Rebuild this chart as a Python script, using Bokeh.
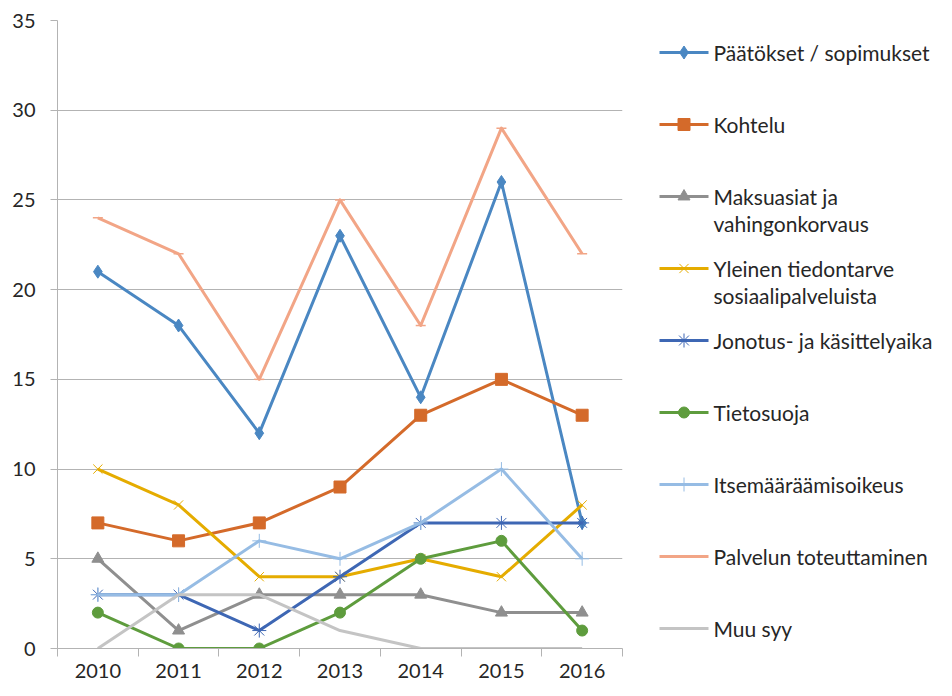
from bokeh.plotting import figure
from bokeh.layouts import row
from bokeh.models import Range1d, FixedTicker
from bokeh.core.properties import value
from bokeh.embed import file_html
from bokeh.resources import INLINE

years = ["2010", "2011", "2012", "2013", "2014", "2015", "2016"]

paatokset = [21, 18, 12, 23, 14, 26, 7]
kohtelu = [7, 6, 7, 9, 13, 15, 13]
maksuasiat = [5, 1, 3, 3, 3, 2, 2]
yleinen = [10, 8, 4, 4, 5, 4, 8]
jonotus = [3, 3, 1, 4, 7, 7, 7]
tietosuoja = [2, 0, 0, 2, 5, 6, 1]
itsemaaraamis = [3, 3, 6, 5, 7, 10, 5]
palvelun = [24, 22, 15, 25, 18, 29, 22]
muu_syy = [0, 3, 3, 1, 0, 0, 0]

series_labels = [
    ["Päätökset / sopimukset"],
    ["Kohtelu"],
    ["Maksuasiat ja", "vahingonkorvaus"],
    ["Yleinen tiedontarve", "sosiaalipalveluista"],
    ["Jonotus- ja käsittelyaika"],
    ["Tietosuoja"],
    ["Itsemääräämisoikeus"],
    ["Palvelun toteuttaminen"],
    ["Muu syy"],
]
series_values = [paatokset, kohtelu, maksuasiat, yleinen, jonotus,
                 tietosuoja, itsemaaraamis, palvelun, muu_syy]
colors = ["#4A87C2", "#D46A2A", "#8F8F8F", "#E5AC00", "#3E67B4",
          "#5E9C3D", "#96BCE4", "#F2A586", "#C4C4C4"]
markers = ["diamond", "square", "triangle", "x", "asterisk",
           "circle", "cross", "dash", None]
msizes = [13, 12, 12, 13, 14, 11, 14, 10, 0]

FONT = "Lato"
TXT = "#262626"
GRID = "#B3B3B3"

H = 680
TOP, BOT = 20, 32
PW = 624
p = figure(width=PW, height=H, output_backend="svg", toolbar_location=None,
           x_range=Range1d(0, len(years)), y_range=Range1d(0, 35),
           min_border_left=57, min_border_right=2, min_border_top=TOP,
           min_border_bottom=BOT)
p.outline_line_color = None
p.xgrid.grid_line_color = None
p.ygrid.grid_line_color = GRID
p.ygrid.grid_line_width = 1
p.ygrid.ticker = FixedTicker(ticks=[0, 5, 10, 15, 20, 25, 30, 35])

yax = p.yaxis[0]
yax.ticker = FixedTicker(ticks=[0, 5, 10, 15, 20, 25, 30, 35])
yax.axis_line_color = GRID
yax.major_tick_line_color = GRID
yax.major_tick_out = 7
yax.major_tick_in = 0
yax.minor_tick_line_color = None
yax.major_label_standoff = 15
yax.major_label_text_font = FONT
yax.major_label_text_font_size = "20px"
yax.major_label_text_color = TXT

centers = [i + 0.5 for i in range(len(years))]
bounds = [float(i) for i in range(len(years) + 1)]
xax = p.xaxis[0]
xax.ticker = FixedTicker(ticks=centers, minor_ticks=bounds)
xax.major_label_overrides = {c: y for c, y in zip(centers, years)}
xax.axis_line_color = GRID
xax.major_tick_line_color = None
xax.major_tick_out = 0
xax.major_tick_in = 0
xax.minor_tick_line_color = GRID
xax.minor_tick_out = 8
xax.minor_tick_in = 0
xax.major_label_standoff = 7
xax.major_label_text_font = FONT
xax.major_label_text_font_size = "20px"
xax.major_label_text_color = TXT

for vals, col, mk, ms in zip(series_values, colors, markers, msizes):
    p.line(centers, vals, line_color=col, line_width=3, line_join="round")
    if mk is not None:
        if mk in ("x", "asterisk", "cross", "dash"):
            p.scatter(centers, vals, marker=mk, size=ms, line_color=col,
                      line_width=1.5 if mk == "dash" else 1, fill_color=None)
        else:
            p.scatter(centers, vals, marker=mk, size=ms, line_color=col,
                      fill_color=col, line_width=1)

# legend panel (data units equal pixels)
LW = 936 - PW
leg = figure(width=LW, height=H, output_backend="svg", toolbar_location=None,
             x_range=Range1d(0, LW), y_range=Range1d(H - BOT, TOP),
             x_axis_type=None, y_axis_type=None,
             min_border_left=0, min_border_right=0, min_border_top=TOP,
             min_border_bottom=BOT)
leg.outline_line_color = None
leg.xgrid.visible = False
leg.ygrid.visible = False

x0, x1, xt = 35, 84, 89
y0, dy, dl = 52, 72, 27
for i, (lab, col, mk, ms) in enumerate(zip(series_labels, colors, markers, msizes)):
    yy = y0 + i * dy
    leg.line([x0, x1], [yy, yy], line_color=col, line_width=3)
    if mk is not None and mk != "dash":
        xm = (x0 + x1) / 2
        if mk in ("x", "asterisk", "cross"):
            leg.scatter([xm], [yy], marker=mk, size=ms, line_color=col,
                        fill_color=None, line_width=1)
        else:
            leg.scatter([xm], [yy], marker=mk, size=ms, line_color=col,
                        fill_color=col)
    for j, line in enumerate(lab):
        leg.text([xt], [yy + j * dl], text=[line], text_font=value(FONT),
                 text_font_size="21px", text_color=TXT,
                 text_baseline="middle", text_align="left")

layout = row(p, leg, spacing=0)
open("out.html", "w").write(file_html(layout, INLINE))
